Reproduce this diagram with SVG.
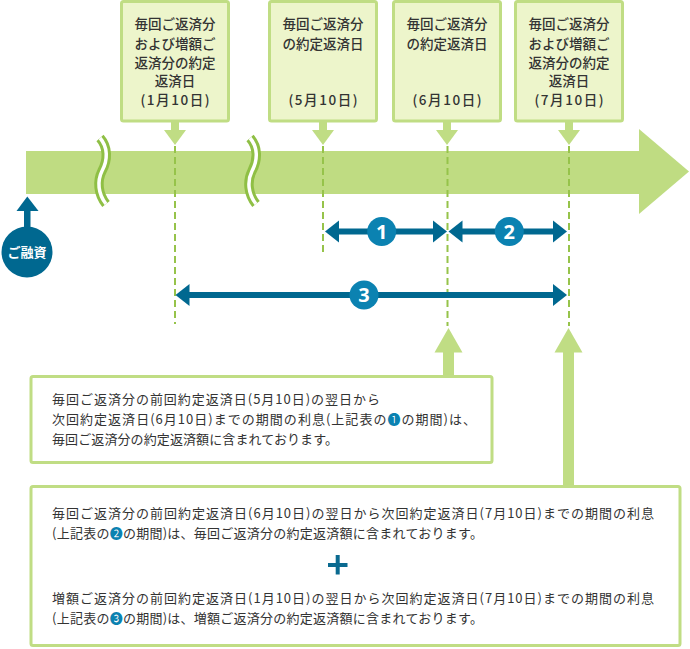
<svg xmlns="http://www.w3.org/2000/svg" width="690" height="649" viewBox="0 0 690 649">
<style>
.box{fill:#edf5cb;stroke:#c0dd84;stroke-width:3}
.note{fill:#ffffff;stroke:#c0dd84;stroke-width:3}
.g{fill:#c0dd84}
.band{fill:#bfdc82}
.dash{stroke:#96c34a;stroke-width:2;stroke-dasharray:7 4;fill:none}
.brk1{fill:none;stroke:#8fbf45;stroke-width:9.5}
.brk2{fill:none;stroke:#ffffff;stroke-width:3.5}
.blue{fill:#006890}
.num{fill:#0b82b1}
.t{font-family:"Noto Sans CJK JP","Noto Sans",sans-serif;font-size:13.5px;font-weight:500;fill:#333333;text-anchor:middle}
.d{font-family:"Noto Sans CJK JP","Noto Sans",sans-serif;font-size:13px;fill:#333333}
.n{font-family:"Noto Sans","Liberation Sans",sans-serif;font-size:20px;font-weight:bold;fill:#ffffff;text-anchor:middle}
.c{fill:#0b82b1}
</style>
<defs>
<path id="brk" d="M100,138 C108,147 108,160 102,171 C97,181 98,194 106,204"/>
</defs>

<!-- timeline band -->
<g id="timeline">
<rect class="band" x="26" y="151" width="614" height="43"/>
<polygon class="band" points="639,129 689,171.5 639,214"/>
<use href="#brk" class="brk1"/>
<use href="#brk" class="brk2"/>
<use href="#brk" class="brk1" transform="translate(150,0)"/>
<use href="#brk" class="brk2" transform="translate(150,0)"/>
</g>

<!-- top boxes -->
<g id="box-jan">
<rect class="box" x="121.5" y="1.5" width="107" height="119.5" rx="2"/>
<text class="t" x="175" y="29">毎回ご返済分</text>
<text class="t" x="175" y="48.5">および増額ご</text>
<text class="t" x="175" y="67.5">返済分の約定</text>
<text class="t" x="175" y="86">返済日</text>
<text class="t" x="175" y="105" textLength="69" lengthAdjust="spacing">(1月10日)</text>
</g>
<g id="box-may">
<rect class="box" x="269.5" y="1.5" width="107" height="119.5" rx="2"/>
<text class="t" x="323" y="29">毎回ご返済分</text>
<text class="t" x="323" y="48.5">の約定返済日</text>
<text class="t" x="323" y="105" textLength="69" lengthAdjust="spacing">(5月10日)</text>
</g>
<g id="box-jun">
<rect class="box" x="393.5" y="1.5" width="107" height="119.5" rx="2"/>
<text class="t" x="447" y="29">毎回ご返済分</text>
<text class="t" x="447" y="48.5">の約定返済日</text>
<text class="t" x="447" y="105" textLength="69" lengthAdjust="spacing">(6月10日)</text>
</g>
<g id="box-jul">
<rect class="box" x="515.5" y="1.5" width="107" height="119.5" rx="2"/>
<text class="t" x="569" y="29">毎回ご返済分</text>
<text class="t" x="569" y="48.5">および増額ご</text>
<text class="t" x="569" y="67.5">返済分の約定</text>
<text class="t" x="569" y="86">返済日</text>
<text class="t" x="569" y="105" textLength="69" lengthAdjust="spacing">(7月10日)</text>
</g>

<!-- loan start -->
<g id="loan">
<circle cx="27" cy="252" r="25.5" fill="#006890"/>
<text x="27" y="257" font-family="'Noto Sans CJK JP','Noto Sans',sans-serif" font-size="13" font-weight="bold" fill="#ffffff" text-anchor="middle">ご融資</text>
</g>

<!-- note boxes -->
<g id="note1">
<rect class="note" x="31" y="376.5" width="461" height="86" rx="2"/>
<text class="d" x="52" y="404" textLength="328" lengthAdjust="spacing">毎回ご返済分の前回約定返済日(5月10日)の翌日から</text>
<text class="d" x="52" y="424" textLength="424" lengthAdjust="spacing">次回約定返済日(6月10日)までの期間の利息(上記表の<tspan class="c">❶</tspan>の期間)は、</text>
<text class="d" x="52" y="444" textLength="286" lengthAdjust="spacing">毎回ご返済分の約定返済額に含まれております。</text>
</g>
<g id="note2">
<rect class="note" x="31" y="486.5" width="649" height="159" rx="2"/>
<text class="d" x="52" y="518" textLength="602" lengthAdjust="spacing">毎回ご返済分の前回約定返済日(6月10日)の翌日から次回約定返済日(7月10日)までの期間の利息</text>
<text class="d" x="52" y="538" textLength="431" lengthAdjust="spacing">(上記表の<tspan class="c">❷</tspan>の期間)は、毎回ご返済分の約定返済額に含まれております。</text>
<path d="M328,565 H347.5 M337.7,555 V574.5" stroke="#0a6a90" stroke-width="4" fill="none"/>
<text class="d" x="52" y="603" textLength="602" lengthAdjust="spacing">増額ご返済分の前回約定返済日(1月10日)の翌日から次回約定返済日(7月10日)までの期間の利息</text>
<text class="d" x="52" y="623" textLength="431" lengthAdjust="spacing">(上記表の<tspan class="c">❸</tspan>の期間)は、増額ご返済分の約定返済額に含まれております。</text>
</g>

<!-- connectors -->
<g id="connectors">
<rect class="g" x="171" y="121" width="8" height="10"/>
<polygon class="g" points="164,130 186,130 175,145"/>
<rect class="g" x="319" y="121" width="8" height="10"/>
<polygon class="g" points="312,130 334,130 323,145"/>
<rect class="g" x="443" y="121" width="8" height="10"/>
<polygon class="g" points="436,130 458,130 447,145"/>
<rect class="g" x="565" y="121" width="8" height="10"/>
<polygon class="g" points="558,130 580,130 569,145"/>
<line class="dash" x1="175" y1="146" x2="175" y2="324"/>
<line class="dash" x1="323" y1="146" x2="323" y2="255"/>
<line class="dash" x1="447.5" y1="146" x2="447.5" y2="326"/>
<line class="dash" x1="569" y1="146" x2="569" y2="326"/>
<rect class="blue" x="24" y="209" width="6.5" height="20"/>
<polygon class="blue" points="27.3,196.5 16.5,211 38.5,211"/>
<rect class="blue" x="338" y="228.5" width="96" height="6"/>
<polygon class="blue" points="325,231.5 339,220.5 339,242.5"/>
<polygon class="blue" points="447,231.5 433,220.5 433,242.5"/>
<circle class="num" cx="381.7" cy="231.5" r="14.5"/>
<text class="n" x="381.7" y="238.5">1</text>
<rect class="blue" x="461" y="228.5" width="93" height="6"/>
<polygon class="blue" points="448.5,231.5 462.5,220.5 462.5,242.5"/>
<polygon class="blue" points="567,231.5 553,220.5 553,242.5"/>
<circle class="num" cx="509.3" cy="231.5" r="14.5"/>
<text class="n" x="509.3" y="238.5">2</text>
<rect class="blue" x="188" y="292" width="366" height="6"/>
<polygon class="blue" points="175.5,295 189.5,284 189.5,306"/>
<polygon class="blue" points="567,295 553,284 553,306"/>
<circle class="num" cx="364" cy="295" r="14.5"/>
<text class="n" x="364" y="302">3</text>
<polygon class="g" points="448.5,328 434.5,352.5 462.5,352.5"/>
<rect class="g" x="443" y="352" width="11" height="24"/>
<polygon class="g" points="568.5,328 554.5,352.5 582.5,352.5"/>
<rect class="g" x="563" y="352" width="11" height="134"/>
</g>
</svg>
